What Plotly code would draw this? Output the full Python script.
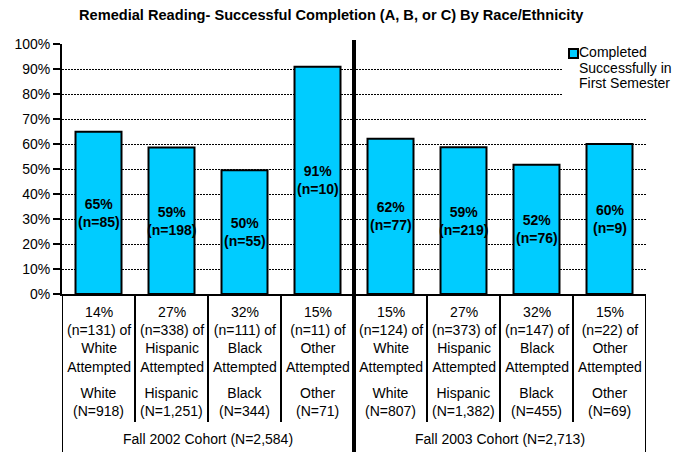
import plotly.graph_objects as go

# ---- data ----
groups = ["White", "Hispanic", "Black", "Other", "White", "Hispanic", "Black", "Other"]
pct_success = [64.9, 58.6, 49.5, 90.9, 62.1, 58.7, 51.7, 60.0]
pct_labels = ["65%", "59%", "50%", "91%", "62%", "59%", "52%", "60%"]
n_success = [85, 198, 55, 10, 77, 219, 76, 9]
pct_attempted = ["14%", "27%", "32%", "15%", "15%", "27%", "32%", "15%"]
n_attempted = ["131", "338", "111", "11", "124", "373", "147", "22"]
group_N = ["918", "1,251", "344", "71", "807", "1,382", "455", "69"]
cohorts = ["Fall 2002 Cohort (N=2,584)", "Fall 2003 Cohort (N=2,713)"]
y_ticks = [0, 10, 20, 30, 40, 50, 60, 70, 80, 90, 100]
series_name = "Completed Successfully in First Semester"
legend_lines = ["Completed", "Successfully in", "First Semester"]
title = "Remedial Reading- Successful Completion (A, B, or C) By Race/Ethnicity"

# ---- layout geometry (pixels) ----
W, H = 687, 452
L, R, T, B = 62, 646, 44, 294
pw, ph = R - L, B - T


def px_x(x):
    return (x - L) / pw


def px_y(y):
    return (B - y) / ph


FONT = "Liberation Sans, Arial, sans-serif"
CYAN = "#00CCFF"
x_pos = list(range(len(groups)))

fig = go.Figure()
fig.add_trace(go.Bar(
    x=x_pos, y=pct_success, width=0.63, name=series_name,
    marker=dict(color=CYAN, line=dict(color="black", width=2)),
    showlegend=False, hoverinfo="skip",
))

annotations = []
shapes = []

# bar labels
for i, (v, p, n) in enumerate(zip(pct_success, pct_labels, n_success)):
    annotations.append(dict(
        x=i, y=v / 2, xref="x", yref="y", text=f"<b>{p}<br>(n={n})</b>",
        showarrow=False, font=dict(family=FONT, size=14, color="black"),
        xanchor="center", yanchor="middle",
    ))

# category table text
for i in x_pos:
    annotations.append(dict(
        x=i, y=px_y(339), xref="x", yref="paper",
        text=f"{pct_attempted[i]}<br>(n={n_attempted[i]}) of<br>{groups[i]}<br>Attempted",
        showarrow=False, font=dict(family=FONT, size=14, color="black"),
        xanchor="center", yanchor="middle",
    ))
    annotations.append(dict(
        x=i, y=px_y(402), xref="x", yref="paper",
        text=f"{groups[i]}<br>(N={group_N[i]})",
        showarrow=False, font=dict(family=FONT, size=14, color="black"),
        xanchor="center", yanchor="middle",
    ))
for k, c in enumerate(cohorts):
    annotations.append(dict(
        x=1.5 + 4 * k, y=px_y(439), xref="x", yref="paper", text=c,
        showarrow=False, font=dict(family=FONT, size=14, color="black"),
        xanchor="center", yanchor="middle",
    ))

# table lines
n_cat = len(groups)
for b in range(1, n_cat):
    if b == 4:
        continue
    shapes.append(dict(type="line", xref="x", yref="paper", x0=b - 0.5, x1=b - 0.5,
                       y0=0, y1=px_y(422), line=dict(color="black", width=2)))
for xb in [-0.5, n_cat - 0.5]:
    shapes.append(dict(type="line", xref="x", yref="paper", x0=xb, x1=xb,
                       y0=0, y1=px_y(452), line=dict(color="black", width=2)))
shapes.append(dict(type="line", xref="x", yref="paper", x0=3.5, x1=3.5,
                   y0=px_y(452), y1=px_y(40), line=dict(color="black", width=4),
                   layer="above"))

# manual legend
shapes.append(dict(type="rect", xref="paper", yref="paper",
                   x0=px_x(563), x1=px_x(687), y0=px_y(100), y1=px_y(37),
                   fillcolor="white", line=dict(width=0), layer="above"))
shapes.append(dict(type="rect", xref="paper", yref="paper",
                   x0=px_x(569), x1=px_x(578), y0=px_y(58), y1=px_y(49),
                   fillcolor=CYAN, line=dict(color="black", width=2), layer="above"))
for j, (txt, yc) in enumerate(zip(legend_lines, [52, 67.5, 83])):
    annotations.append(dict(
        x=px_x(580), y=px_y(yc), xref="paper", yref="paper", text=txt,
        showarrow=False, font=dict(family=FONT, size=14, color="black"),
        xanchor="left", yanchor="middle", xshift=-3,
    ))

# title
annotations.append(dict(
    x=px_x(331.5), y=px_y(15), xref="paper", yref="paper", text=f"<b>{title}</b>",
    showarrow=False, font=dict(family=FONT, size=14.6, color="black"),
    xanchor="center", yanchor="middle",
))

fig.update_layout(
    width=W, height=H,
    margin=dict(l=L, r=W - R, t=T, b=H - B, pad=0),
    paper_bgcolor="white", plot_bgcolor="white",
    font=dict(family=FONT, size=14, color="black"),
    showlegend=False,
    bargap=0.37,
    xaxis=dict(range=[-0.5, n_cat - 0.5], showticklabels=False, ticks="",
               showgrid=False, zeroline=False, showline=True,
               linecolor="black", linewidth=2, fixedrange=True),
    yaxis=dict(range=[0, 100], tickvals=y_ticks, ticktext=[f"{t}%" for t in y_ticks],
               showgrid=True, gridcolor="black", gridwidth=1, griddash="2px,1px",
               zeroline=False, showline=True, linecolor="black", linewidth=2,
               ticks="outside", ticklen=7, tickwidth=2, tickcolor="black",
               tickfont=dict(family=FONT, size=14, color="black"), fixedrange=True),
    annotations=annotations, shapes=shapes,
)

fig.write_html("out.html", config={"displayModeBar": False})
